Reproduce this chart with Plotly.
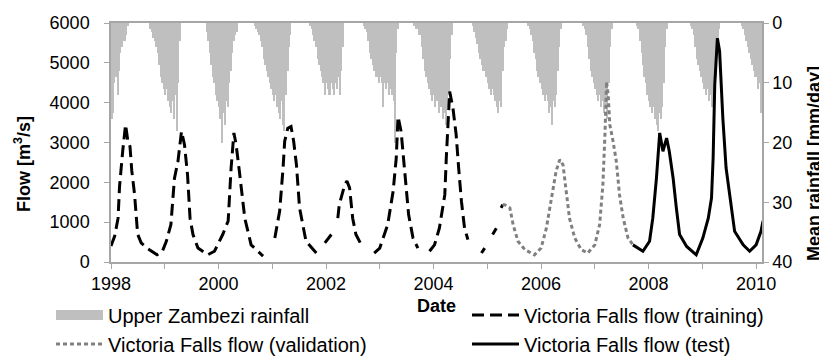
import datetime as dt
import plotly.graph_objects as go

# ---------------- data ----------------
# Upper Zambezi rainfall [mm/day], dekadal values; each season starts at the given dekad date
rain_season_start = ["1998-01-01", "1998-09-21", "1999-10-11", "2000-09-01", "2001-09-11",
                     "2002-09-11", "2003-08-21", "2004-09-21", "2005-10-01", "2006-10-11",
                     "2007-10-11", "2008-10-11", "2009-09-21"]
rain_9798 = [16, 15, 10, 9, 12, 8, 5, 4, 3, 3, 2, 0.5]
rain_9899 = [1, 1.5, 2.5, 3, 4, 5, 7, 9, 10, 11, 12, 11, 13, 14, 15, 13, 16, 12, 18, 10, 3]
rain_9900 = [1.5, 3, 5, 7, 9, 10, 12, 13, 14, 16, 20, 15, 17, 13, 14, 10, 8, 5, 3, 2, 1.5]
rain_0001 = [0.5, 1, 1.5, 2, 3, 4, 6, 7, 8, 9, 10, 11, 12, 13, 12, 14, 15, 16, 13, 17, 18, 12, 8, 4, 2]
rain_0102 = [0.5, 1, 2, 3, 4, 6, 7, 8, 9, 10, 12, 10, 11, 12, 10, 11, 12, 10, 11, 9, 12, 8, 4]
rain_0203 = [0.5, 1, 1.5, 3, 5, 6, 7, 8, 9, 9, 10, 9, 10, 14, 10, 11, 10, 12, 11, 12, 13, 20, 5, 1]
rain_0304 = [0.5, 1, 1, 2, 2, 4, 6, 8, 9, 10, 11, 12, 13, 12, 14, 13, 15, 13, 14, 16, 15, 17, 14, 12, 6, 2]
rain_0405 = [0.5, 1.5, 2.5, 3.5, 5, 6, 7, 8, 8, 9, 10, 11, 12, 11, 12, 13, 14, 15, 13, 14, 8, 4, 3, 1]
rain_0506 = [0.5, 1, 2, 3, 5, 6, 8, 9, 10, 11, 12, 13, 12, 13, 15, 14, 17, 13, 14, 12, 8, 4, 1]
rain_0607 = [0.5, 1, 2, 4, 6, 8, 9, 10, 11, 12, 13, 12, 14, 13, 15, 14, 16, 10, 4, 1]
rain_0708 = [0.5, 1, 3, 5, 7, 9, 10, 12, 13, 14, 15, 14, 16, 17, 18, 15, 16, 14, 10, 4, 1]
rain_0809 = [0.5, 1, 2, 4, 6, 7, 8, 9, 10, 11, 12, 11, 13, 12, 14, 12, 13, 9, 4, 1]
rain_0910 = [0.5, 1, 2, 3, 4, 5, 6, 7, 8, 9, 9, 11, 10, 15, 10]
rain_seasons = [rain_9798, rain_9899, rain_9900, rain_0001, rain_0102, rain_0203, rain_0304,
                rain_0405, rain_0506, rain_0607, rain_0708, rain_0809, rain_0910]

# Victoria Falls flow [m3/s]; None marks gaps in the record
train_dates = ["1998-01-01", "1998-01-26", "1998-02-18", "1998-02-28", "1998-03-22", "1998-04-10",
               "1998-04-25", "1998-05-10", "1998-05-22", "1998-06-10", "1998-07-01", "1998-07-25",
               "1998-09-10", "1998-11-10", "1998-12-15",
               "1999-01-12", "1999-02-12", "1999-03-08", "1999-04-01", "1999-04-25", "1999-05-15",
               "1999-06-05", "1999-06-22", "1999-07-12", "1999-08-15", "1999-10-20", "1999-12-05",
               "2000-01-30", "2000-03-07", "2000-03-27", "2000-04-15", "2000-04-30", "2000-05-22",
               "2000-06-28", "2000-08-10", "2000-10-30", "2000-11-25",
               "2001-01-18", "2001-02-20", "2001-03-15", "2001-03-26", "2001-04-16", "2001-05-08",
               "2001-05-26", "2001-06-14", "2001-07-05", "2001-07-26", "2001-08-18", "2001-10-27",
               "2001-11-20",
               "2001-12-24", "2002-02-06", "2002-03-01",
               "2002-03-22", "2002-04-01", "2002-05-08", "2002-05-23", "2002-06-10", "2002-07-01",
               "2002-07-23", "2002-09-09", "2002-10-15",
               "2002-11-24", "2003-01-01", "2003-02-24", "2003-04-02", "2003-04-23", "2003-05-05",
               "2003-05-26", "2003-06-13", "2003-06-28", "2003-07-16", "2003-08-15", "2003-09-17",
               "2003-10-25",
               "2003-12-05", "2004-01-08", "2004-02-10", "2004-03-18", "2004-03-28", "2004-04-08",
               "2004-04-20", "2004-05-12", "2004-06-03", "2004-06-20", "2004-07-09", "2004-07-30",
               "2004-08-22", "2004-10-01",
               "2004-11-22", "2004-12-14", "2005-01-01",
               "2005-02-06", "2005-03-03", "2005-03-18",
               "2005-04-05", "2005-04-15"]
train_flow = [400, 650, 1100, 1900, 2800, 3450,
              3050, 2900, 2300, 1700, 700, 480,
              330, 180, 260,
              520, 940, 2100, 2530, 3280, 2950,
              2190, 1100, 690, 350, 180, 270,
              690, 1030, 2360, 3240, 2950, 2280,
              1100, 430, 150, None,
              600, 1280, 2360, 3030, 3360, 3400,
              3030, 2440, 1360, 940, 520, 225,
              None,
              480, 690, None,
              1100, 1440, 1940, 2030, 1860, 1100,
              690, 350, None,
              225, 350, 940, 1780, 2610, 3650,
              3280, 2530, 1940, 1190, 600, 350,
              None,
              270, 430, 850, 1690, 2610, 3610,
              4280, 3870, 3200, 2360, 1520, 850,
              560, None,
              225, 350, None,
              690, 850, None,
              1360, 1440]

valid_dates = ["2005-04-15", "2005-04-27", "2005-06-03", "2005-06-25", "2005-07-28", "2005-09-13",
               "2005-11-17", "2006-01-01", "2006-02-06", "2006-03-11", "2006-04-13", "2006-05-08",
               "2006-05-30", "2006-06-21", "2006-07-13", "2006-08-18", "2006-10-01", "2006-11-14",
               "2007-01-01", "2007-02-03", "2007-02-25", "2007-03-11", "2007-03-22", "2007-04-02",
               "2007-04-13", "2007-05-05", "2007-05-27", "2007-06-18", "2007-07-13", "2007-08-15",
               "2007-09-17"]
valid_flow = [1440, 1440, 1360, 940, 520, 310,
              180, 350, 850, 1520, 2280, 2570,
              2440, 1770, 1100, 600, 310, 225,
              430, 940, 1940, 3200, 4530, 4200,
              3450, 3030, 2530, 1690, 1100, 600,
              430]

test_dates = ["2007-09-17", "2007-11-24", "2008-01-08", "2008-01-30", "2008-02-24", "2008-03-06",
              "2008-03-17", "2008-04-08", "2008-05-03", "2008-05-21", "2008-06-16", "2008-07-08",
              "2008-07-30", "2008-09-16", "2008-11-20", "2009-01-04", "2009-02-10", "2009-03-04",
              "2009-03-15", "2009-03-26", "2009-04-13", "2009-04-28", "2009-05-20", "2009-06-11",
              "2009-07-06", "2009-08-08", "2009-10-05", "2009-11-18", "2010-01-01", "2010-02-03",
              "2010-02-17"]
test_flow = [430, 270, 520, 1100, 2110, 2780,
             3240, 2780, 3110, 2780, 2110, 1360,
             690, 390, 180, 600, 1100, 1610,
             2610, 4450, 5620, 5290, 3610, 2360,
             1690, 770, 430, 270, 430, 770,
             1030]

# ---------------- build dekad x positions ----------------
def next_dekad(d):
    if d.day == 1:
        return d.replace(day=11)
    if d.day == 11:
        return d.replace(day=21)
    y, m = d.year, d.month + 1
    if m == 13:
        y, m = y + 1, 1
    return dt.date(y, m, 1)

rain_x, rain_y = [], []
for start, vals in zip(rain_season_start, rain_seasons):
    d = dt.date.fromisoformat(start)
    for v in vals:
        rain_x.append(d.isoformat())
        rain_y.append(v)
        d = next_dekad(d)

FONT = "Liberation Sans, Arial, sans-serif"
GRAY_AX = "#A6A6A6"
RAIN_C = "#BFBFBF"
DAY_MS = 86400000

fig = go.Figure()

fig.add_trace(go.Bar(
    x=rain_x, y=rain_y, yaxis="y", width=10.3 * DAY_MS, offset=0,
    marker=dict(color=RAIN_C, line=dict(width=0)),
    name="Upper Zambezi rainfall", showlegend=False, hoverinfo="skip"))

# legend proxy for the rainfall bars (wide swatch), drawn with the first rainfall point
fig.add_trace(go.Scatter(
    x=rain_x[:1], y=[0], yaxis="y", mode="lines",
    line=dict(color=RAIN_C, width=13), name="Upper Zambezi rainfall", legend="legend",
    hoverinfo="skip"))

fig.add_trace(go.Scatter(
    x=train_dates, y=train_flow, yaxis="y2", mode="lines", connectgaps=False,
    line=dict(color="black", width=3, dash="12px,6px"),
    name="Victoria Falls flow (training)", legend="legend2"))
fig.add_trace(go.Scatter(
    x=valid_dates, y=valid_flow, yaxis="y2", mode="lines",
    line=dict(color="#808080", width=3, dash="4px,3px"),
    name="Victoria Falls flow (validation)", legend="legend3"))
fig.add_trace(go.Scatter(
    x=test_dates, y=test_flow, yaxis="y2", mode="lines",
    line=dict(color="black", width=3),
    name="Victoria Falls flow (test)", legend="legend4"))

W, H = 827, 361
ML, MR, MT, MB = 103, 73, 15, 107
PW = W - ML - MR

def leg(xpx, ypx):
    return dict(x=xpx / W, y=1 - ypx / H, xref="container", yref="container",
                xanchor="left", yanchor="middle", orientation="v",
                font=dict(family=FONT, size=20, color="black"),
                itemwidth=47, bgcolor="rgba(0,0,0,0)", borderwidth=0)

fig.update_layout(
    width=W, height=H,
    margin=dict(l=ML, r=MR, t=MT, b=MB, autoexpand=False),
    paper_bgcolor="white", plot_bgcolor="white",
    font=dict(family=FONT, size=18, color="black"),
    barmode="overlay", bargap=0,
    xaxis=dict(
        type="date", range=["1998-01-01", "2010-02-10"],
        tick0="1998-01-01", dtick="M24", tickformat="%Y", tickangle=0,
        ticks="outside", ticklen=5, tickcolor=GRAY_AX, tickwidth=1,
        minor=dict(dtick="M12", tick0="1998-01-01", ticks="outside", ticklen=5,
                   tickcolor=GRAY_AX, showgrid=False),
        showline=True, linecolor=GRAY_AX, linewidth=1.5, mirror=True,
        showgrid=False, zeroline=False, automargin=True,
        tickfont=dict(size=18),
        title=dict(text="<b>Date</b>", font=dict(size=18), standoff=6)),
    yaxis=dict(
        side="right", range=[40, 0], dtick=10, tick0=0,
        ticks="outside", ticklen=5, tickcolor=GRAY_AX,
        showline=True, linecolor=GRAY_AX, linewidth=1.5,
        showgrid=False, zeroline=False, tickfont=dict(size=18)),
    yaxis2=dict(
        overlaying="y", side="left", range=[0, 6000], dtick=1000, tick0=0,
        ticks="outside", ticklen=5, tickcolor=GRAY_AX, ticklabelstandoff=11,
        showline=True, linecolor=GRAY_AX, linewidth=1.5,
        showgrid=False, zeroline=False, tickfont=dict(size=18)),
    legend=leg(43, 307),
    legend2=leg(459, 307),
    legend3=leg(43, 336),
    legend4=leg(459, 336),
    annotations=[
        dict(text="<b>Flow [m<sup>3</sup>/s]</b>", textangle=-90,
             xref="paper", yref="paper", x=(14 - ML) / PW, y=0.41,
             xanchor="center", yanchor="middle", showarrow=False,
             font=dict(family=FONT, size=18, color="black")),
        dict(text="<b>Mean rainfall [mm/day]</b>", textangle=-90,
             xref="paper", yref="paper", x=(806 - ML) / PW, y=0.41,
             xanchor="center", yanchor="middle", showarrow=False,
             font=dict(family=FONT, size=18, color="black")),
    ],
)

fig.write_html("out.html")
